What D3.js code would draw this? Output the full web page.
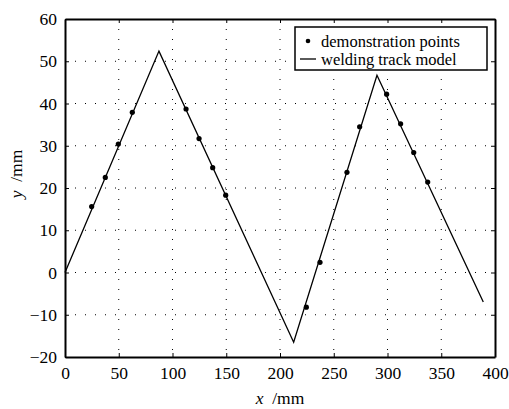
<!DOCTYPE html>
<html>
<head>
<meta charset="utf-8">
<script src="https://cdn.jsdelivr.net/npm/d3@7"></script>
<style>
  body { margin: 0; background: #fff; }
  text { font-family: "Liberation Serif", "DejaVu Serif", serif; }
</style>
</head>
<body>
<div id="chart"></div>
<script>
// welding track model vertices (x, y in mm)
const modelX = [0, 87.4, 212.7, 290.2, 389.1];
const modelY = [0, 52.4, -16.5, 46.7, -7.0];

// demonstration points
const demoX = [24.8, 37.5, 49.6, 62.6, 112.6, 124.7, 137.4, 149.5, 224.5, 237.2, 262.3, 274.1, 299.2, 312.2, 324.4, 337.4];
const demoY = [15.6, 22.5, 30.4, 37.9, 38.7, 31.7, 24.8, 18.3, -8.2, 2.4, 23.7, 34.5, 42.2, 35.2, 28.4, 21.4];

const xTicks = [0, 50, 100, 150, 200, 250, 300, 350, 400];
const yTicks = [-20, -10, 0, 10, 20, 30, 40, 50, 60];

const legendLabels = ["demonstration points", "welding track model"];

const W = 509, H = 409;
const margin = { top: 19, right: 14, bottom: 52, left: 65 };
const width = W - margin.left - margin.right;
const height = H - margin.top - margin.bottom;
const fs = 17.5;

const svg = d3.select("#chart").append("svg")
  .attr("width", W)
  .attr("height", H);

const g = svg.append("g")
  .attr("transform", `translate(${margin.left},${margin.top})`);

const x = d3.scaleLinear().domain([0, 400]).range([0, width]);
const y = d3.scaleLinear().domain([-20, 60]).range([height, 0]);

// dotted grid
g.append("g").selectAll("line")
  .data(xTicks.slice(1, -1))
  .enter().append("line")
  .attr("x1", d => x(d)).attr("x2", d => x(d))
  .attr("y1", 0).attr("y2", height)
  .attr("stroke", "#000").attr("stroke-width", 1)
  .attr("stroke-dasharray", "1,9");

g.append("g").selectAll("line")
  .data(yTicks.slice(1, -1))
  .enter().append("line")
  .attr("y1", d => y(d)).attr("y2", d => y(d))
  .attr("x1", 0).attr("x2", width)
  .attr("stroke", "#000").attr("stroke-width", 1)
  .attr("stroke-dasharray", "1,9");

// axes with inward ticks
const tickLen = 4;
const xAxis = g.append("g")
  .attr("transform", `translate(0,${height})`)
  .call(d3.axisBottom(x).tickValues(xTicks).tickSizeInner(-tickLen).tickSizeOuter(0).tickPadding(10));
const yAxis = g.append("g")
  .call(d3.axisLeft(y).tickValues(yTicks).tickSizeInner(-tickLen).tickSizeOuter(0).tickPadding(8));
const xTop = g.append("g")
  .call(d3.axisTop(x).tickValues(xTicks).tickSizeInner(-tickLen).tickSizeOuter(0).tickFormat(""));
const yRight = g.append("g")
  .attr("transform", `translate(${width},0)`)
  .call(d3.axisRight(y).tickValues(yTicks).tickSizeInner(-tickLen).tickSizeOuter(0).tickFormat(""));

[xAxis, yAxis, xTop, yRight].forEach(a => {
  a.attr("font-family", null).attr("font-size", fs);
  a.select(".domain").attr("stroke-width", 2);
  a.selectAll(".tick line").attr("stroke-width", 1);
  a.selectAll("text").attr("fill", "#000");
});
yAxis.selectAll("text").text(d => d < 0 ? "\u2212" + Math.abs(d) : d);

// model line
const pts = modelX.map((d, i) => [d, modelY[i]]);
g.append("path")
  .datum(pts)
  .attr("fill", "none")
  .attr("stroke", "#000")
  .attr("stroke-width", 1.3)
  .attr("d", d3.line().x(d => x(d[0])).y(d => y(d[1])));

// demonstration points
g.append("g").selectAll("circle")
  .data(demoX.map((d, i) => [d, demoY[i]]))
  .enter().append("circle")
  .attr("cx", d => x(d[0]))
  .attr("cy", d => y(d[1]))
  .attr("r", 2.6)
  .attr("fill", "#000");

// axis labels
svg.append("text")
  .attr("x", 280).attr("y", 404)
  .attr("text-anchor", "middle")
  .attr("font-size", fs)
  .attr("xml:space", "preserve")
  .html('<tspan font-style="italic">x</tspan>  /mm');

svg.append("text")
  .attr("transform", "translate(22,174) rotate(-90)")
  .attr("text-anchor", "middle")
  .attr("font-size", fs)
  .attr("xml:space", "preserve")
  .html('<tspan font-style="italic">y</tspan>  /mm');

// legend
const lg = svg.append("g").attr("transform", "translate(295,27)");
lg.append("rect")
  .attr("width", 192).attr("height", 43)
  .attr("fill", "#fff").attr("stroke", "#000").attr("stroke-width", 1.5);
lg.append("circle").attr("cx", 13).attr("cy", 14).attr("r", 2.3).attr("fill", "#000");
lg.append("line").attr("x1", 5).attr("x2", 21).attr("y1", 32).attr("y2", 32)
  .attr("stroke", "#000").attr("stroke-width", 1.3);
lg.selectAll("text.lab")
  .data(legendLabels)
  .enter().append("text")
  .attr("class", "lab")
  .attr("x", 26)
  .attr("y", (d, i) => 19.5 + i * 18.5)
  .attr("font-size", 16.5)
  .text(d => d);
</script>
</body>
</html>
